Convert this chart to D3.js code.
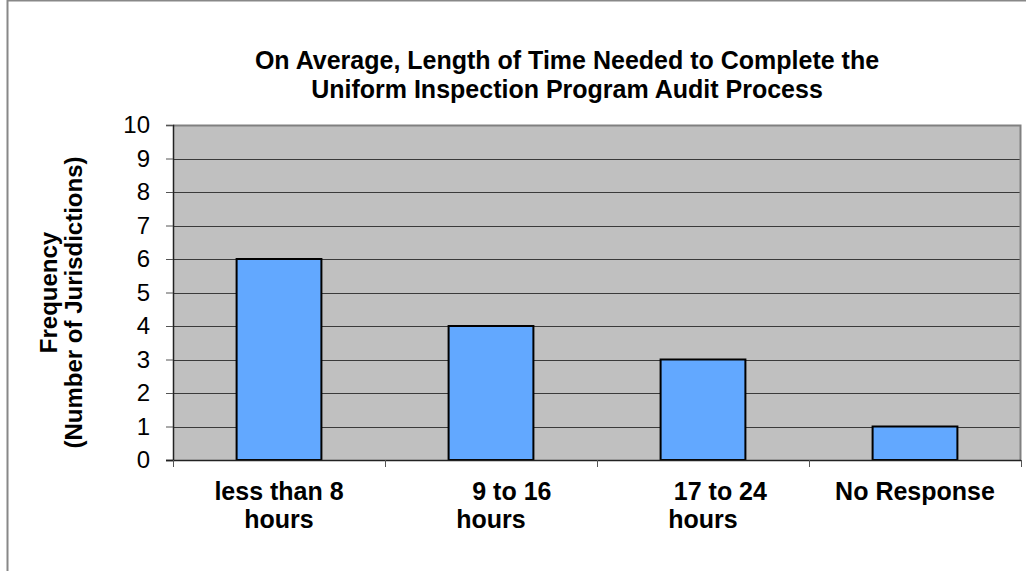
<!DOCTYPE html>
<html>
<head>
  <meta charset="UTF-8">
  <style>
    body { margin: 0; background: #fff; }
    svg { display: block; font-family: "Liberation Sans", Arial, sans-serif; }
    text { white-space: pre; }
  </style>
</head>
<body>
<svg></svg>
<script src="https://d3js.org/d3.v7.min.js"></script>
<script>
// data
var categories = ["less than 8 hours", "9 to 16 hours", "17 to 24 hours", "No Response"];
var labelLines = [["less than 8", "hours"], ["      9 to 16", "hours"], ["     17 to 24", "hours"], ["No Response"]];
var frequency = [6, 4, 3, 1];
var yTicks = [0, 1, 2, 3, 4, 5, 6, 7, 8, 9, 10];
var titleLines = ["On Average, Length of Time Needed to Complete the", "Uniform Inspection Program Audit Process"];
var yTitleLines = ["Frequency", "(Number of Jurisdictions)   "];

var width = 1026, height = 571;
var plotLeft = 173, plotRight = 1021, plotTop = 125, plotBottom = 460;

var svg = d3.select("svg").attr("width", width).attr("height", height);

// outer chart border (only left and top visible)
svg.append("line").attr("x1", 7.5).attr("x2", 7.5).attr("y1", 0).attr("y2", height)
    .attr("stroke", "#888").attr("stroke-width", 2);
svg.append("line").attr("x1", 7).attr("x2", width).attr("y1", 0.5).attr("y2", 0.5)
    .attr("stroke", "#888").attr("stroke-width", 2);

var x = d3.scaleBand()
    .domain(categories)
    .range([plotLeft, plotRight])
    .paddingInner(0.6)
    .paddingOuter(0.3);

var y = d3.scaleLinear()
    .domain([0, 10])
    .range([plotBottom, plotTop]);

// plot background
svg.append("rect")
    .attr("x", plotLeft).attr("y", plotTop)
    .attr("width", plotRight - plotLeft).attr("height", plotBottom - plotTop)
    .attr("fill", "#c0c0c0");

// gridlines
svg.append("g").selectAll("line")
    .data(yTicks.filter(d => d > 0 && d < 10))
    .enter().append("line")
    .attr("x1", plotLeft).attr("x2", plotRight)
    .attr("y1", d => Math.round(y(d)) + 0.5).attr("y2", d => Math.round(y(d)) + 0.5)
    .attr("stroke", "#3a3a3a").attr("stroke-width", 1);

// plot border top/right
svg.append("path")
    .attr("d", "M" + plotLeft + "," + (plotTop + 0.5) + "H" + (plotRight - 0.5) + "V" + plotBottom)
    .attr("fill", "none").attr("stroke", "#808080").attr("stroke-width", 2);

// bars
svg.append("g").selectAll("rect")
    .data(frequency)
    .enter().append("rect")
    .attr("x", (d, i) => x(categories[i]))
    .attr("y", d => y(d))
    .attr("width", x.bandwidth())
    .attr("height", d => plotBottom - y(d))
    .attr("fill", "#62a8ff")
    .attr("stroke", "#000")
    .attr("stroke-width", 2);

// y axis
var yAxis = d3.axisLeft(y).tickValues(yTicks).tickSize(7).tickPadding(16);
var gy = svg.append("g").attr("transform", "translate(" + plotLeft + ",0)").call(yAxis);
gy.select(".domain").attr("stroke", "#222").attr("stroke-width", 1.5);
gy.selectAll(".tick line").attr("stroke", "#555");
gy.selectAll(".tick text")
    .attr("font-family", "Liberation Sans, Arial, sans-serif")
    .attr("font-size", 24).attr("fill", "#000");

// x axis: ticks at category boundaries
var bounds = d3.range(categories.length + 1).map(i => plotLeft + i * x.step());
svg.append("line").attr("x1", plotLeft - 7).attr("x2", plotRight).attr("y1", plotBottom + 0.5).attr("y2", plotBottom + 0.5)
    .attr("stroke", "#222").attr("stroke-width", 1.5);
svg.append("g").selectAll("line")
    .data(bounds)
    .enter().append("line")
    .attr("x1", d => Math.round(d) + 0.5).attr("x2", d => Math.round(d) + 0.5)
    .attr("y1", plotBottom).attr("y2", plotBottom + 7)
    .attr("stroke", "#555");

// category labels
var cat = svg.append("g").attr("font-size", 25).attr("font-weight", "bold")
    .attr("text-anchor", "middle");
labelLines.forEach(function(lines, i) {
    var cx = x(categories[i]) + x.bandwidth() / 2;
    lines.forEach(function(t, j) {
        cat.append("text").attr("xml:space", "preserve")
            .attr("x", cx).attr("y", 500 + j * 28).text(t);
    });
});

// title
svg.append("g").selectAll("text")
    .data(titleLines)
    .enter().append("text")
    .attr("x", 567).attr("y", (d, i) => 69 + i * 29)
    .attr("text-anchor", "middle")
    .attr("font-size", 25).attr("font-weight", "bold")
    .text(d => d);

// y axis title
svg.append("g").selectAll("text")
    .data(yTitleLines)
    .enter().append("text")
    .attr("xml:space", "preserve")
    .attr("transform", (d, i) => "translate(" + (57 + i * 25) + "," + ((plotTop + plotBottom) / 2) + ") rotate(-90)")
    .attr("text-anchor", "middle")
    .attr("font-size", 24).attr("font-weight", "bold")
    .text(d => d);
</script>
</body>
</html>
